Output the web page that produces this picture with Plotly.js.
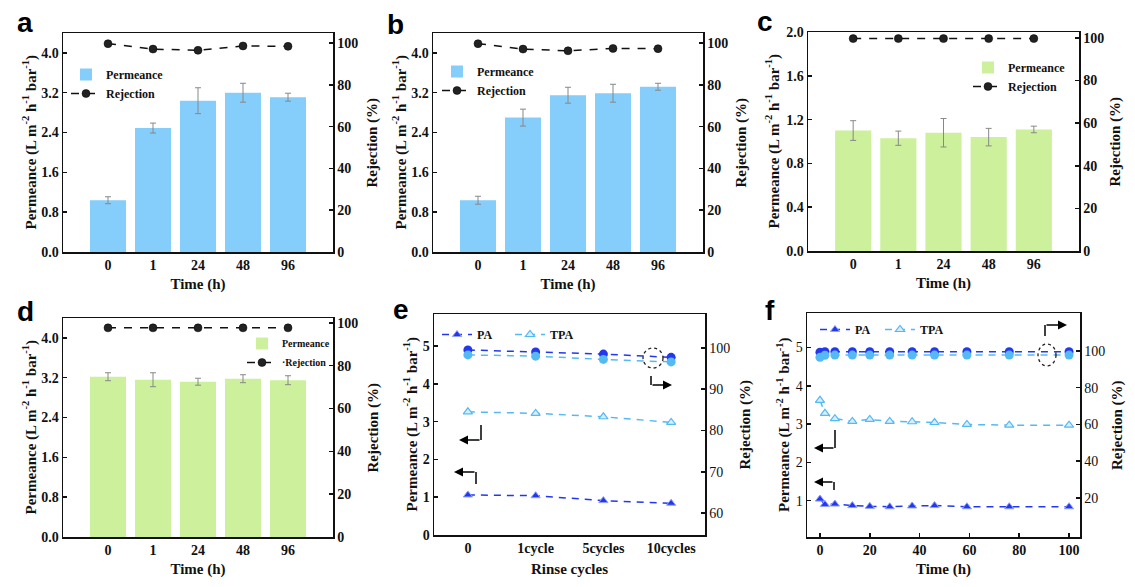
<!DOCTYPE html>
<html>
<head>
<meta charset="utf-8">
<script src="https://cdn.plot.ly/plotly-3.0.1.min.js"></script>
<style>
  html, body { margin: 0; padding: 0; background: #fff; }
  #plot { width: 1135px; height: 587px; }
</style>
</head>
<body>
<div id="plot"></div>
<script>
// bar panels a-d
const timeCats = ['0', '1', '24', '48', '96']

const permA = [1.04, 2.49, 3.04, 3.20, 3.11]
const permAErr = [0.07, 0.10, 0.26, 0.19, 0.08]
const rejA = [99.7, 97.1, 96.5, 98.6, 98.4]

const permB = [1.04, 2.70, 3.15, 3.19, 3.32]
const permBErr = [0.08, 0.17, 0.16, 0.18, 0.07]
const rejB = [99.7, 97.1, 96.3, 97.4, 97.3]

const permC = [1.10, 1.03, 1.08, 1.04, 1.11]
const permCErr = [0.09, 0.065, 0.13, 0.08, 0.03]
const rejC = [99.7, 99.7, 99.7, 99.7, 99.7]

const permD = [3.22, 3.16, 3.12, 3.18, 3.15]
const permDErr = [0.08, 0.14, 0.07, 0.08, 0.09]
const rejD = [97.7, 97.7, 97.7, 97.7, 97.7]

// panel e
const rinseCats = ['0', '1cycle', '5cycles', '10cycles']
const paPermE = [1.06, 1.04, 0.91, 0.84]
const tpaPermE = [3.26, 3.22, 3.13, 2.98]
const paRejE = [99.5, 99.0, 98.5, 97.7]
const tpaRejE = [98.3, 98.0, 97.2, 96.6]

// panel f
const timeF = [0, 2, 6, 13, 20, 28, 37, 46, 59, 76, 100]
const paPermF = [1.04, 0.90, 0.91, 0.87, 0.85, 0.84, 0.86, 0.87, 0.84, 0.84, 0.84]
const tpaPermF = [3.62, 3.28, 3.14, 3.07, 3.12, 3.07, 3.06, 3.04, 2.99, 2.97, 2.97]
const paRejF = [99.3, 99.5, 99.5, 99.5, 99.5, 99.5, 99.5, 99.5, 99.5, 99.5, 99.5]
const tpaRejF = [96.5, 97.6, 97.7, 97.7, 97.7, 97.7, 97.7, 97.7, 97.7, 97.7, 97.7]

const W = 1135, H = 587
const px = x => x / W
const py = y => 1 - y / H
const b = s => '<b>' + s + '</b>'

const SERIF = 'Liberation Serif'
const BLUE_BAR = '#85cdfa'
const GREEN_BAR = '#cdf09c'
const PA = '#2338ec'
const TPA = '#55b9f4'

const tickFont = { family: SERIF, size: 14, color: '#111' }
const titleFont = { family: SERIF, size: 15, color: '#111' }
const legFont = { family: SERIF, size: 12, color: '#111' }

function baseAxis(extra) {
  return Object.assign({
    showline: true, linecolor: '#111', linewidth: 1.5,
    ticks: 'inside', ticklen: 4, tickwidth: 1.5, tickcolor: '#111',
    tickfont: tickFont, tickprefix: '<b>', ticksuffix: '</b>',
    showgrid: false, zeroline: false,
    automargin: false, fixedrange: true
  }, extra)
}

const permTitle = b('Permeance (L m<sup>-2</sup> h<sup>-1</sup> bar<sup>-1</sup>)')

// plot boxes in pixels [left, top, right, bottom], plus y-title centres [left x, right x]
const boxes = [
  [63, 33, 333, 252],
  [433, 33, 703, 252],
  [808, 32, 1079, 251],
  [63, 318, 333, 537],
  [434, 314, 705, 535],
  [807, 313, 1080, 537]
]
const yTitleX = [[30, 372], [400, 741], [773, 1115], [30, 373], [411, 745], [783, 1117]]

const layout = {
  width: W, height: H,
  margin: { l: 0, r: 0, t: 0, b: 0 },
  paper_bgcolor: '#fff', plot_bgcolor: '#fff',
  showlegend: true,
  font: { family: SERIF, color: '#111' },
  annotations: [],
  shapes: []
}

boxes.forEach((bx, i) => {
  const n = i + 1
  const xk = n === 1 ? 'xaxis' : 'xaxis' + n
  const yk = n === 1 ? 'yaxis' : 'yaxis' + n
  const yr = 'yaxis' + (n + 6)
  layout[xk] = baseAxis({
    domain: [px(bx[0]), px(bx[2])], anchor: n === 1 ? 'y' : 'y' + n, mirror: true
  })
  layout[yk] = baseAxis({
    domain: [py(bx[3]), py(bx[1])], anchor: n === 1 ? 'x' : 'x' + n
  })
  layout[yr] = baseAxis({
    domain: [py(bx[3]), py(bx[1])], anchor: n === 1 ? 'x' : 'x' + n,
    overlaying: n === 1 ? 'y' : 'y' + n, side: 'right'
  })
  // y titles as rotated annotations so they sit where the reference has them
  const cy = (bx[1] + bx[3]) / 2
  layout.annotations.push({
    xref: 'paper', yref: 'paper', x: px(yTitleX[i][0]), y: py(cy),
    xanchor: 'center', yanchor: 'middle', textangle: -90, showarrow: false,
    text: permTitle, font: titleFont
  })
  layout.annotations.push({
    xref: 'paper', yref: 'paper', x: px(yTitleX[i][1]), y: py(cy),
    xanchor: 'center', yanchor: 'middle', textangle: -90, showarrow: false,
    text: b('Rejection (%)'), font: titleFont
  })
})

// bar panels axes
;[1, 2, 3, 4].forEach(n => {
  const xk = n === 1 ? 'xaxis' : 'xaxis' + n
  const yk = n === 1 ? 'yaxis' : 'yaxis' + n
  Object.assign(layout[xk], {
    type: 'category', range: [-1, 5], ticks: '',
    title: { text: b('Time (h)'), font: titleFont, standoff: 6 }
  })
  if (n === 3) {
    Object.assign(layout[yk], { range: [0, 2.0], dtick: 0.4, tickformat: '.1f' })
  } else {
    Object.assign(layout[yk], { range: [0, 4.4], dtick: 0.8, tick0: 0, tickformat: '.1f' })
  }
})
layout.yaxis7.range = [0, 104.8]; layout.yaxis7.dtick = 20
layout.yaxis8.range = [0, 104.8]; layout.yaxis8.dtick = 20
layout.yaxis9.range = [0, 102.8]; layout.yaxis9.dtick = 20
layout.yaxis10.range = [0, 102.3]; layout.yaxis10.dtick = 20

// panel e axes
Object.assign(layout.xaxis5, {
  type: 'category', range: [-0.5, 3.5], ticks: '',
  title: { text: b('Rinse cycles'), font: titleFont, standoff: 8 }
})
Object.assign(layout.yaxis5, { range: [0, 5.85], dtick: 1 })
Object.assign(layout.yaxis11, { range: [54.7, 108.2], tickvals: [60, 70, 80, 90, 100] })

// panel f axes
Object.assign(layout.xaxis6, {
  range: [-5.2, 104.4], dtick: 20,
  title: { text: b('Time (h)'), font: titleFont, standoff: 6 }
})
Object.assign(layout.yaxis6, { range: [0.05, 5.9], tickvals: [1, 2, 3, 4, 5] })
Object.assign(layout.yaxis12, { range: [-1.2, 120.6], tickvals: [20, 40, 60, 80, 100] })

// legends
function legendAt(x, y, extra) {
  return Object.assign({
    x: px(x), y: py(y), xanchor: 'left', yanchor: 'top',
    bgcolor: 'rgba(0,0,0,0)', font: legFont, tracegroupgap: 0,
    itemwidth: 30
  }, extra)
}
layout.legend = legendAt(66, 60)
layout.legend2 = legendAt(437, 57)
layout.legend3 = legendAt(968, 53)
layout.legend4 = legendAt(242, 329, { font: Object.assign({}, legFont, { size: 10 }) })
layout.legend5 = legendAt(437, 320, { orientation: 'h', entrywidth: 28 })
layout.legend6 = legendAt(815, 315, { orientation: 'h', entrywidth: 20 })

const traces = []
function barPanel(n, perm, err, rej, color) {
  const xs = n === 1 ? 'x' : 'x' + n
  const ys = n === 1 ? 'y' : 'y' + n
  const leg = n === 1 ? 'legend' : 'legend' + n
  traces.push({
    type: 'bar', x: timeCats, y: perm, name: b('Permeance'),
    xaxis: xs, yaxis: ys, legend: leg, width: 0.8,
    marker: { color: color, line: { width: 0 } },
    error_y: { type: 'data', array: err, visible: true, color: '#888', thickness: 1, width: 3 }
  })
  traces.push({
    type: 'scatter', mode: 'lines+markers', x: timeCats, y: rej,
    name: b(n === 4 ? '·Rejection' : 'Rejection'),
    xaxis: xs, yaxis: 'y' + (n + 6), legend: leg,
    line: { color: '#111', width: 1.5, dash: '8px,8px' },
    marker: { symbol: 'circle', size: 8, color: '#222', line: { color: '#000', width: 0.5 } }
  })
}
barPanel(1, permA, permAErr, rejA, BLUE_BAR)
barPanel(2, permB, permBErr, rejB, BLUE_BAR)
barPanel(3, permC, permCErr, rejC, GREEN_BAR)
barPanel(4, permD, permDErr, rejD, GREEN_BAR)

function linePanel(n, xv, paP, tpaP, paR, tpaR) {
  const xs = 'x' + n
  const leg = 'legend' + n
  const dash = '7px,6px'
  traces.push({
    type: 'scatter', mode: 'lines+markers', x: xv, y: paP, name: b('PA'),
    xaxis: xs, yaxis: 'y' + n, legend: leg,
    line: { color: PA, width: 1.5, dash: dash },
    marker: { symbol: 'triangle-up', size: 8, color: PA, line: { color: '#8fa0ff', width: 1 } }
  })
  traces.push({
    type: 'scatter', mode: 'lines+markers', x: xv, y: tpaP, name: b('TPA'),
    xaxis: xs, yaxis: 'y' + n, legend: leg,
    line: { color: TPA, width: 1.5, dash: dash },
    marker: { symbol: 'triangle-up', size: 8, color: '#d6efff', line: { color: TPA, width: 1.2 } }
  })
  traces.push({
    type: 'scatter', mode: 'lines+markers', x: xv, y: paR, name: 'PA',
    xaxis: xs, yaxis: 'y' + (n + 6), showlegend: false,
    line: { color: PA, width: 1.5, dash: dash },
    marker: { symbol: 'circle', size: 9, color: PA }
  })
  traces.push({
    type: 'scatter', mode: 'lines+markers', x: xv, y: tpaR, name: 'TPA',
    xaxis: xs, yaxis: 'y' + (n + 6), showlegend: false,
    line: { color: TPA, width: 1.5, dash: dash },
    marker: { symbol: 'circle', size: 9, color: TPA }
  })
}
linePanel(5, rinseCats, paPermE, tpaPermE, paRejE, tpaRejE)
linePanel(6, timeF, paPermF, tpaPermF, paRejF, tpaRejF)

// panel letters
const letters = [['a', 25, 22], ['b', 395, 24], ['c', 765, 21], ['d', 25, 311], ['e', 401, 309], ['f', 770, 310]]
letters.forEach(l => {
  layout.annotations.push({
    xref: 'paper', yref: 'paper', x: px(l[1]), y: py(l[2]),
    xanchor: 'center', yanchor: 'middle', showarrow: false, text: b(l[0]),
    font: { family: 'Liberation Sans', size: 28, color: '#000' }
  })
})

// bent pointer arrows: vertical stem as a shape, horizontal part with head as annotation
function bentArrow(x0, y0, xc, yc, xh) {
  layout.shapes.push({
    type: 'path', xref: 'paper', yref: 'paper',
    path: `M ${px(x0)} ${py(y0)} L ${px(xc)} ${py(yc)}`,
    line: { color: '#000', width: 1.5 }
  })
  layout.annotations.push({
    xref: 'paper', yref: 'paper', x: px(xh), y: py(yc), ax: xc - xh, ay: 0,
    text: '', showarrow: true, arrowhead: 2, arrowsize: 1.2, arrowwidth: 1.5, arrowcolor: '#000'
  })
}
function dashedRing(cx, cy, rx, ry) {
  layout.shapes.push({
    type: 'circle', xref: 'paper', yref: 'paper',
    x0: px(cx - rx), x1: px(cx + rx), y0: py(cy + ry), y1: py(cy - ry),
    line: { color: '#222', width: 1.3, dash: 'dot' }
  })
}
// panel e
dashedRing(653, 358, 10, 10)
bentArrow(651, 376, 651, 385, 672)
bentArrow(481, 425, 481, 440, 459)
bentArrow(476, 484, 476, 472, 454)
// panel f
dashedRing(1047, 355, 9, 11)
bentArrow(1045, 336, 1045, 325, 1067)
bentArrow(835, 430, 835, 448, 814)
bentArrow(834, 490, 834, 482, 814)

Plotly.newPlot('plot', traces, layout, { displayModeBar: false, staticPlot: true })
</script>
</body>
</html>
